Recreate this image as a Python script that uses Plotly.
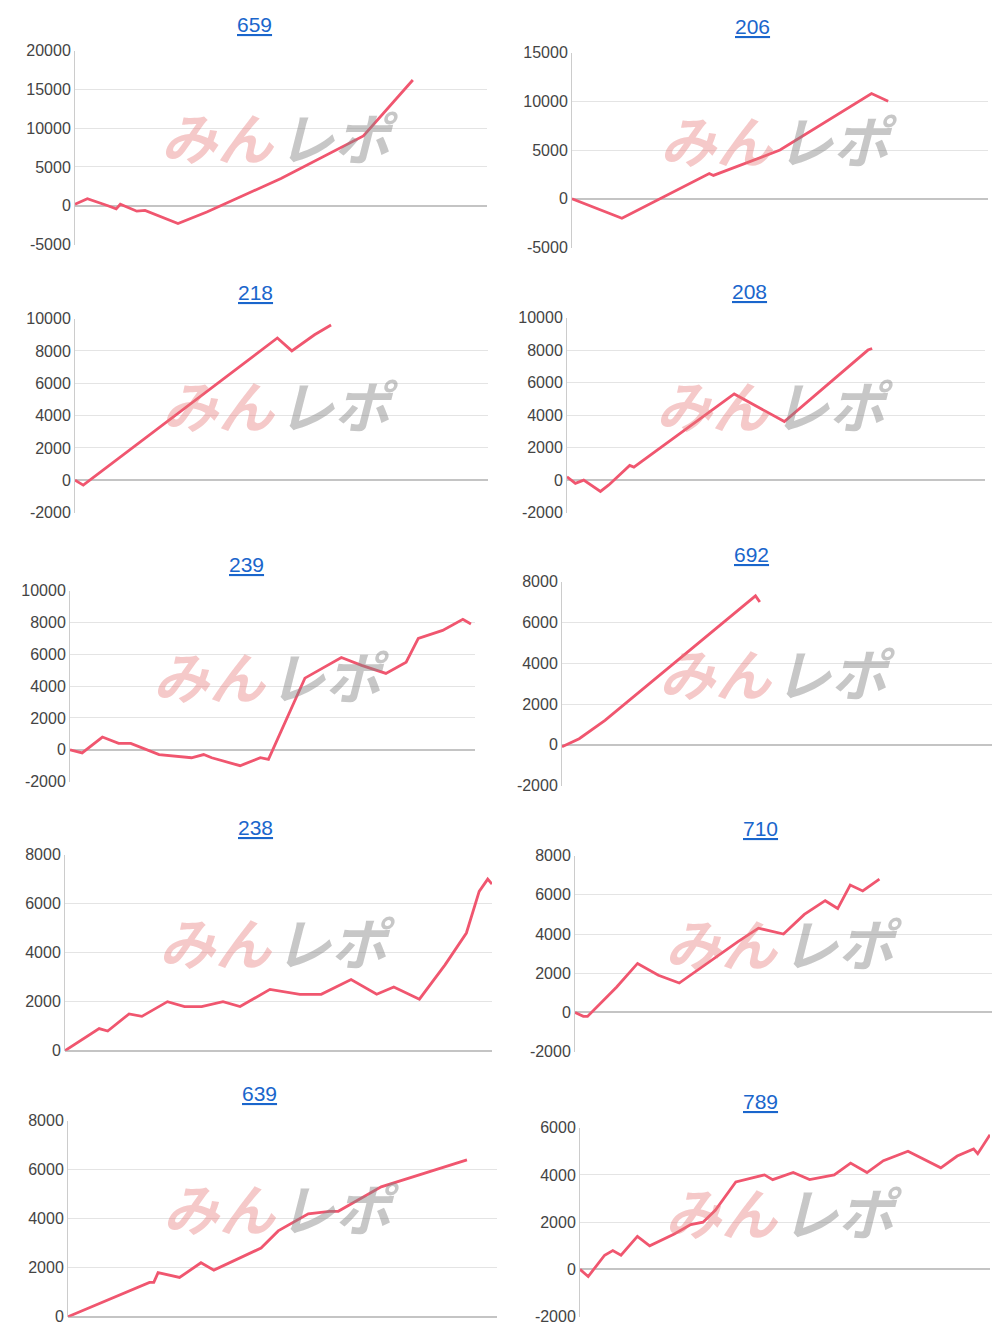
import plotly.graph_objects as go

# --- data: x positions as % of axis width, y values ---
titles = ["659", "206", "218", "208", "239", "692", "238", "710", "639", "789"]

x_659 = [0, 3, 8, 10, 11, 15, 17, 25, 32, 50, 70, 82]
y_659 = [200, 900, 0, -400, 200, -700, -600, -2300, -800, 3500, 9000, 16200]

x_206 = [0, 12, 33, 34, 50, 72, 76]
y_206 = [0, -2000, 2600, 2400, 5000, 10800, 10000]

x_218 = [0, 2, 49, 52.5, 58, 62]
y_218 = [0, -300, 8800, 8000, 9000, 9600]

x_208 = [0, 2, 4, 8, 10, 14, 15, 16, 40, 52, 62, 72, 73]
y_208 = [200, -200, 0, -700, -300, 700, 900, 800, 5300, 3600, 5800, 8000, 8100]

x_239 = [0, 3, 8, 12, 15, 22, 30, 33, 35, 42, 47, 49, 58, 67, 72, 78, 83, 86, 92, 97, 99]
y_239 = [0, -200, 800, 400, 400, -300, -500, -300, -500, -1000, -500, -600, 4500, 5800,
         5300, 4800, 5500, 7000, 7500, 8200, 7900]

x_692 = [0, 4, 10, 45, 46]
y_692 = [-100, 300, 1200, 7300, 7000]

x_238 = [0, 8, 10, 15, 18, 24, 28, 32, 37, 41, 48, 52, 55, 60, 67, 73, 77, 83, 89, 94, 97, 99, 100]
y_238 = [0, 900, 800, 1500, 1400, 2000, 1800, 1800, 2000, 1800, 2500, 2400, 2300, 2300, 2900,
         2300, 2600, 2100, 3500, 4800, 6500, 7000, 6800]

x_710 = [0, 2, 3, 10, 15, 20, 25, 39, 44, 50, 55, 60, 63, 66, 69, 73]
y_710 = [0, -200, -200, 1300, 2500, 1900, 1500, 3600, 4300, 4000, 5000, 5700, 5300, 6500, 6200, 6800]

x_639 = [0, 19, 20, 21, 26, 31, 34, 45, 49, 56, 61, 63, 73, 93]
y_639 = [0, 1400, 1400, 1800, 1600, 2200, 1900, 2800, 3500, 4200, 4300, 4300, 5300, 6400]

x_789 = [0, 2, 6, 8, 10, 14, 17, 23, 27, 30, 33, 38, 45, 47, 52, 56, 62, 66, 70, 74, 80, 88,
         92, 96, 97, 100]
y_789 = [0, -300, 600, 800, 600, 1400, 1000, 1500, 1900, 2000, 2500, 3700, 4000, 3800, 4100,
         3800, 4000, 4500, 4100, 4600, 5000, 4300, 4800, 5100, 4900, 5700]

xs = [x_659, x_206, x_218, x_208, x_239, x_692, x_238, x_710, x_639, x_789]
ys = [y_659, y_206, y_218, y_208, y_239, y_692, y_238, y_710, y_639, y_789]
y_ranges = [(-5000, 20000), (-5000, 15000), (-2000, 10000), (-2000, 10000), (-2000, 10000),
            (-2000, 8000), (0, 8000), (-2000, 8000), (0, 8000), (-2000, 6000)]
y_steps = [5000, 5000, 2000, 2000, 2000, 2000, 2000, 2000, 2000, 2000]

# pixel boxes (left, right, top, bottom) as seen in the 1000x1334 screenshot
boxes = [(75, 487, 50, 244), (572, 988, 52, 247),
         (75, 488, 318, 512), (567, 985, 317, 512),
         (70, 475, 590, 781), (562, 995, 581, 785),
         (65, 492, 854, 1050), (575, 995, 855, 1051),
         (68, 497, 1120, 1316), (580, 990, 1127, 1316)]
title_x = [254, 752, 255, 749, 246, 751, 256, 760, 259, 760]
title_y = [24, 26, 292, 291, 564, 554, 827, 828, 1093, 1101]

OFF = 8  # page body margin
W, H = 1000 - 2 * OFF, 1334 - 2 * OFF
LINE = "#f0566f"


def px_x(p):
    return min(1, max(0, (p - OFF) / W))


def px_y(p):
    q = (p - 0.66) / 0.987
    return min(1, max(0, 1 - (q - OFF - 7) / H))


fig = go.Figure()
for i in range(10):
    n = "" if i == 0 else str(i + 1)
    l, r, t, b = boxes[i]
    fig.add_trace(go.Scatter(x=xs[i], y=ys[i], mode="lines",
                             line=dict(color=LINE, width=2.8),
                             xaxis="x" + n, yaxis="y" + n, hoverinfo="skip"))
    lo, hi = y_ranges[i]
    ticks = list(range(lo, hi + 1, y_steps[i]))
    fig.layout["xaxis" + n] = dict(domain=[px_x(l), px_x(r)], range=[0, 100], visible=False,
                                   anchor="y" + n)
    fig.layout["yaxis" + n] = dict(
        domain=[px_y(b), px_y(t)], range=[lo, hi], anchor="x" + n,
        tickvals=ticks, ticktext=[str(v) for v in ticks],
        showgrid=True, gridcolor="#e4e4e4", showline=True, linecolor="#cccccc",
        zeroline=True, zerolinecolor="#c4c4c4", zerolinewidth=1.5,
        tickfont=dict(size=16, color="#444"), ticks="", ticklen=0)
    fig.add_annotation(x=px_x(title_x[i]), y=px_y(title_y[i]), xref="paper", yref="paper",
                       xanchor="center", yanchor="middle",
                       text="<u>" + titles[i] + "</u>", showarrow=False,
                       font=dict(size=21, color="#1a66cc", family="Arial"))
    # watermark
    cx = px_x((l + r) / 2)
    wy = px_y((t + b) / 2 - 12)
    fig.add_annotation(x=cx - 0.064, y=wy, xref="paper", yref="paper",
                       xanchor="center", yanchor="middle",
                       text="<b><i>みん</i></b>", showarrow=False,
                       font=dict(size=56, color="rgba(230,120,120,0.4)",
                                 family="Noto Sans CJK JP"))
    fig.add_annotation(x=cx + 0.058, y=wy, xref="paper", yref="paper",
                       xanchor="center", yanchor="middle",
                       text="<b><i>レポ</i></b>", showarrow=False,
                       font=dict(size=56, color="rgba(130,130,130,0.45)",
                                 family="Noto Sans CJK JP"))

fig.update_layout(width=W, height=H, margin=dict(l=0, r=0, t=0, b=0),
                  plot_bgcolor="white", paper_bgcolor="white", showlegend=False,
                  font=dict(family="Arial"))
fig.write_html("out.html")
